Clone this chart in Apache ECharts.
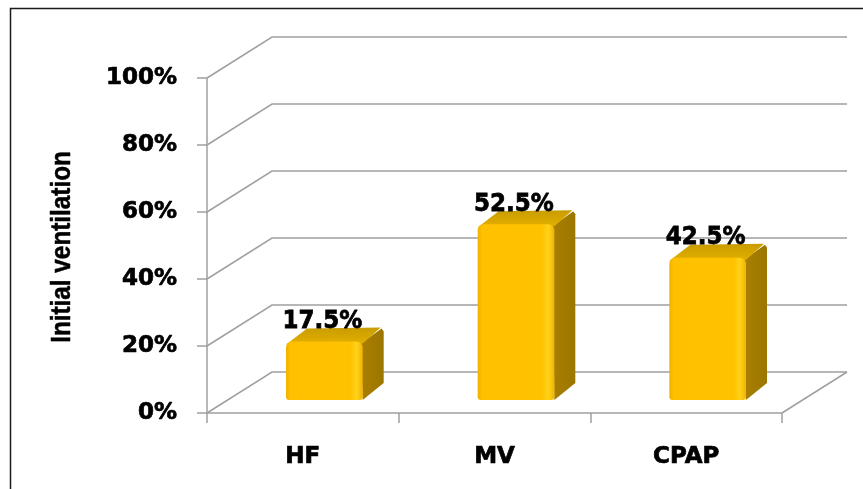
<!DOCTYPE html>
<html>
<head>
<meta charset="utf-8">
<script src="https://cdn.jsdelivr.net/npm/echarts@6/dist/echarts.min.js"></script>
<style>
html,body{margin:0;padding:0;background:#fff;}
#chart{width:863px;height:489px;}
</style>
</head>
<body>
<div id="chart"></div>
<script>
const categories = ['HF', 'MV', 'CPAP'];
const values = [17.5, 52.5, 42.5];
const yTicks = [0, 20, 40, 60, 80, 100];
const yTitle = 'Initial ventilation';

const DX = 65, DY = -41;          // depth of the 3D box
const BOX = 21.5, BOY = -13;      // bar front plane offset
const BDX = 21, BDY = -14;        // bar depth
const LINE = '#A0A0A0';
const FONT = 'bold 23px "DejaVu Sans"';

const chart = echarts.init(document.getElementById('chart'), null, {renderer: 'canvas'});

const labelStyle = {
  color: '#000', fontFamily: 'DejaVu Sans', fontWeight: 'bold', fontSize: 23,
  textBorderColor: '#000', textBorderWidth: 0.7
};

chart.setOption({
  animation: false,
  backgroundColor: '#ffffff',
  grid: {left: 207, right: 81, top: 78, bottom: 76, containLabel: false},
  xAxis: {
    type: 'category',
    data: categories,
    boundaryGap: true,
    axisLine: {show: true, lineStyle: {color: LINE, width: 1.5}},
    axisTick: {show: true, length: 10, lineStyle: {color: LINE, width: 1.5}},
    axisLabel: Object.assign({margin: 33}, labelStyle),
    splitLine: {show: false}
  },
  yAxis: {
    type: 'value',
    min: 0, max: 100, interval: 20,
    axisLine: {show: true, lineStyle: {color: LINE, width: 1.5}},
    axisTick: {show: true, length: 10, lineStyle: {color: LINE, width: 1.5}},
    axisLabel: Object.assign({margin: 30, formatter: '{value}%'}, labelStyle),
    splitLine: {show: false}
  },
  graphic: [
    {type: 'rect', shape: {x: 10.5, y: 8.5, width: 900, height: 600}, style: {fill: null, stroke: '#1a1a1a', lineWidth: 1.5}, z: -10, silent: true},
    {type: 'text', x: 63, y: 247, rotation: Math.PI / 2, scaleX: 0.9, scaleY: 1,
     style: {text: yTitle, textAlign: 'center', textVerticalAlign: 'middle', font: 'bold 27px "Liberation Sans"', fill: '#000', stroke: '#000', lineWidth: 0.5}}
  ],
  series: [
    {
      type: 'custom',
      z: 1,
      silent: true,
      data: yTicks.map(v => [0, v]),
      renderItem: function (params, api) {
        const cs = params.coordSys;
        const y = api.coord([0, api.value(1)])[1];
        const x0 = cs.x, x1 = cs.x + cs.width;
        const children = [{
          type: 'polyline',
          shape: {points: [[x0, y], [x0 + DX, y + DY], [x1 + DX, y + DY]]},
          style: {stroke: LINE, lineWidth: 1.5, fill: null}
        }];
        if (api.value(1) === 0) {
          children.push({
            type: 'line',
            shape: {x1: x1, y1: y, x2: x1 + DX, y2: y + DY},
            style: {stroke: LINE, lineWidth: 1.5}
          });
        }
        return {type: 'group', children: children};
      }
    },
    {
      type: 'custom',
      z: 2,
      data: values.map((v, i) => [i, v]),
      renderItem: function (params, api) {
        const i = api.value(0), v = api.value(1);
        const top = api.coord([i, v]);
        const base = api.coord([i, 0]);
        const w = api.size([1, 0])[0] * 0.4;
        const fl = top[0] + BOX - w / 2, fr = fl + w;
        const ft = top[1] + BOY, fb = base[1] + BOY;
        return {
          type: 'group',
          children: [
            {type: 'polygon', shape: {points: [[fr - 2, ft + 2], [fr + BDX - 2, ft + BDY + 1], [fr + BDX, ft + BDY + 4], [fr + BDX, fb + BDY - 3], [fr, fb]]},
             style: {fill: new echarts.graphic.LinearGradient(0, 0, 1, 0, [{offset: 0, color: '#A97F00'}, {offset: 1, color: '#9C7600'}])}},
            {type: 'polygon', shape: {points: [[fl, ft + 3], [fl + BDX, ft + BDY + 1], [fr + BDX - 3, ft + BDY], [fr, ft + 2]]},
             style: {fill: new echarts.graphic.LinearGradient(0, 1, 0, 0, [{offset: 0, color: '#E3B000'}, {offset: 1, color: '#C99C00'}])}},
            {type: 'rect', shape: {x: fl, y: ft, width: w, height: fb - ft, r: [6, 6, 3, 3]},
             style: {fill: new echarts.graphic.LinearGradient(0, 0, 1, 0, [
               {offset: 0, color: '#EFB200'}, {offset: 0.06, color: '#FFC000'},
               {offset: 0.84, color: '#FFC200'}, {offset: 0.92, color: '#FFD21A'}, {offset: 1, color: '#F0B400'}])}},
            {type: 'text', x: fl + w / 2 - 2, y: ft - 20, scaleY: 1.08,
             style: {text: v.toFixed(1) + '%', textAlign: 'center', textVerticalAlign: 'middle', font: FONT, fill: '#000', stroke: '#000', lineWidth: 0.7}}
          ]
        };
      }
    }
  ]
});
</script>
</body>
</html>
